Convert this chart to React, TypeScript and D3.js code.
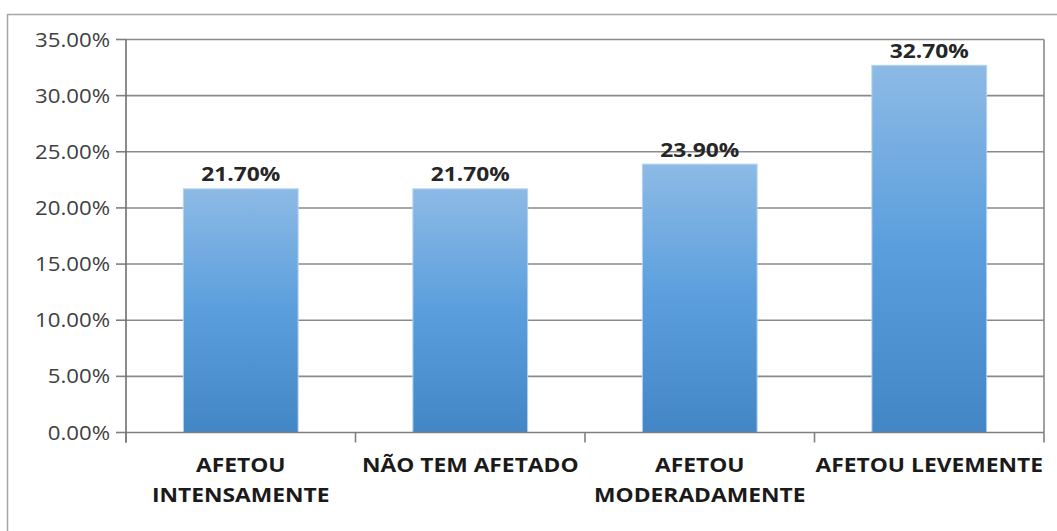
import { useEffect } from 'react'
import * as d3 from 'd3'

const categories = ['AFETOU INTENSAMENTE', 'NÃO TEM AFETADO', 'AFETOU MODERADAMENTE', 'AFETOU LEVEMENTE']
const categoryLines = [['AFETOU', 'INTENSAMENTE'], ['NÃO TEM AFETADO'], ['AFETOU', 'MODERADAMENTE'], ['AFETOU LEVEMENTE']]
const values = [21.7, 21.7, 23.9, 32.7]
const yTicks = [0, 5, 10, 15, 20, 25, 30, 35]

const W = 1057
const H = 531
const plot = { left: 126, right: 1044, top: 39.5, bottom: 432.5 }
// the source picture is stretched horizontally, so the text is too
const stretch = 1.14

export default function App() {
  useEffect(() => {
    document.body.style.margin = '0'
  }, [])

  const x = d3
    .scaleBand<string>()
    .domain(categories)
    .range([plot.left, plot.right])
    .paddingInner(0.5)
    .paddingOuter(0.25)
  const y = d3.scaleLinear().domain([0, 35]).range([plot.bottom, plot.top])
  const step = x.step()
  const bounds = categories.map((c) => (x(c) ?? 0) - (step * 0.5) / 2).concat([plot.right])

  return (
    <svg width={W} height={H} style={{ display: 'block', background: '#fff' }}>
      <defs>
        <linearGradient id="barFill" x1="0" y1="0" x2="0" y2="1">
          <stop offset="0%" stopColor="#8dbae5" />
          <stop offset="50%" stopColor="#5a9edd" />
          <stop offset="100%" stopColor="#4386c6" />
        </linearGradient>
      </defs>
      <rect x={7.5} y={14.5} width={1070} height={540} fill="#fff" stroke="#a6a6a6" strokeWidth={1.5} />

      {yTicks.map((t) => (
        <g key={t}>
          {t > 0 && (
            <line x1={plot.left} x2={plot.right} y1={y(t)} y2={y(t)} stroke="#8a8a8a" strokeWidth={1.6} />
          )}
          <line x1={plot.left - 10} x2={plot.left} y1={y(t)} y2={y(t)} stroke="#7f7f7f" strokeWidth={1.6} />
          <text
            transform={`translate(${plot.left - 16},${y(t) + 7}) scale(${stretch},1)`}
            textAnchor="end"
            fontFamily="'Open Sans', sans-serif"
            fontSize={19.5}
            fill="#404040"
          >
            {d3.format('.2f')(t) + '%'}
          </text>
        </g>
      ))}

      <line x1={plot.right} x2={plot.right} y1={plot.top} y2={plot.bottom} stroke="#8a8a8a" strokeWidth={1.6} />

      {categories.map((c, i) => (
        <g key={c}>
          <rect
            x={x(c)}
            y={y(values[i])}
            width={x.bandwidth()}
            height={plot.bottom - y(values[i])}
            fill="url(#barFill)"
            stroke="#b4d2ef"
            strokeWidth={1}
          />
          <text
            transform={`translate(${(x(c) ?? 0) + x.bandwidth() / 2},${y(values[i]) - 7.5}) scale(${stretch},1)`}
            textAnchor="middle"
            fontFamily="'Open Sans', sans-serif"
            fontWeight="bold"
            fontSize={20}
            fill="#262626"
          >
            {values[i].toFixed(2) + '%'}
          </text>
          {categoryLines[i].map((line, j) => (
            <text
              key={line}
              transform={`translate(${(x(c) ?? 0) + x.bandwidth() / 2},${472 + j * 29.5}) scale(${stretch},1)`}
              textAnchor="middle"
              fontFamily="'Open Sans', sans-serif"
              fontWeight="bold"
              fontSize={20}
              fill="#1a1a1a"
            >
              {line}
            </text>
          ))}
        </g>
      ))}

      <line x1={plot.left} x2={plot.right} y1={plot.bottom} y2={plot.bottom} stroke="#7f7f7f" strokeWidth={1.6} />
      <line x1={plot.left} x2={plot.left} y1={plot.top} y2={plot.bottom + 10} stroke="#6f6f6f" strokeWidth={1.6} />
      {bounds.map((b, i) => (
        <line key={i} x1={b} x2={b} y1={plot.bottom} y2={plot.bottom + 10} stroke="#7f7f7f" strokeWidth={1.6} />
      ))}
    </svg>
  )
}
